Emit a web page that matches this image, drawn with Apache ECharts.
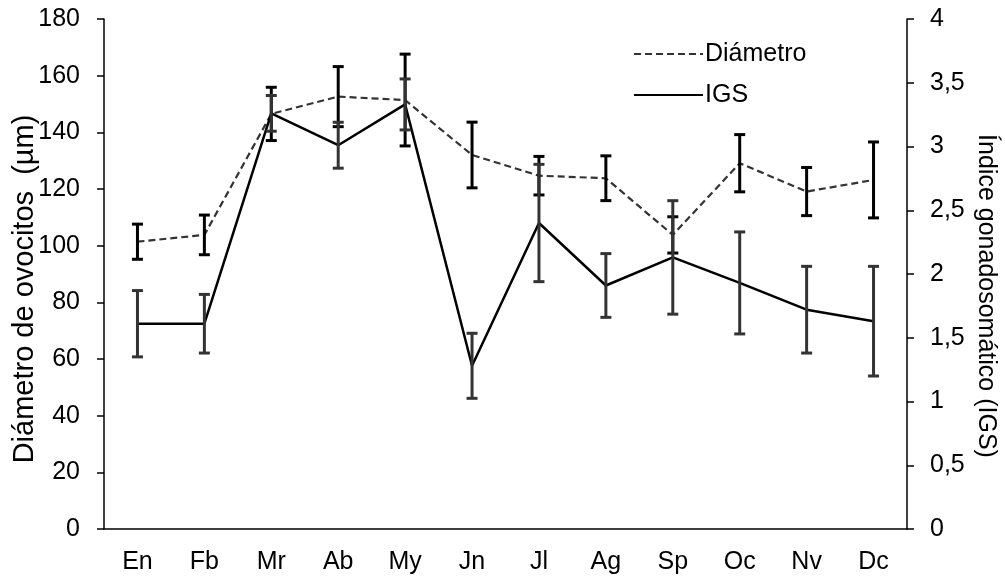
<!DOCTYPE html>
<html>
<head>
<meta charset="utf-8">
<script src="https://cdn.jsdelivr.net/npm/echarts@6/dist/echarts.min.js"></script>
<style>
html,body{margin:0;padding:0;background:#fff;}
#chart{width:1005px;height:579px;}
</style>
</head>
<body>
<div id="chart"></div>
<script>
const months = ['En','Fb','Mr','Ab','My','Jn','Jl','Ag','Sp','Oc','Nv','Dc'];
const diametro = [101.4, 103.8, 146.5, 152.6, 151.4, 132.0, 124.7, 123.8, 103.8, 129.1, 119.1, 123.2];
const diametroErr = [6.2, 7.0, 9.4, 10.6, 16.2, 11.6, 6.8, 7.9, 6.4, 10.1, 8.5, 13.4];
const igs = [1.61, 1.61, 3.26, 3.01, 3.33, 1.28, 2.40, 1.91, 2.13, 1.93, 1.72, 1.63];
const igsErr = [0.26, 0.23, 0.14, 0.18, 0.20, 0.255, 0.46, 0.25, 0.445, 0.40, 0.34, 0.43];
const leftTicks = [0, 20, 40, 60, 80, 100, 120, 140, 160, 180];
const rightTicks = [0, 0.5, 1, 1.5, 2, 2.5, 3, 3.5, 4];

const NARROW = "'Liberation Sans Narrow','Arial Narrow','Liberation Sans',Arial,sans-serif";
const REG = "'Liberation Sans',Arial,sans-serif";

function errData(vals, errs){
  return vals.map((v,i)=>[i, v - errs[i], v + errs[i]]);
}
function errRender(color){
  return function(params, api){
    const x = api.value(0);
    const lo = api.coord([x, api.value(1)]);
    const hi = api.coord([x, api.value(2)]);
    const hw = 5.5;
    const style = {stroke: color, lineWidth: 3};
    return {
      type: 'group',
      children: [
        {type:'line', shape:{x1:lo[0], y1:lo[1], x2:hi[0], y2:hi[1]}, style},
        {type:'line', shape:{x1:lo[0]-hw, y1:lo[1], x2:lo[0]+hw, y2:lo[1]}, style},
        {type:'line', shape:{x1:hi[0]-hw, y1:hi[1], x2:hi[0]+hw, y2:hi[1]}, style}
      ]
    };
  };
}

const chart = echarts.init(document.getElementById('chart'));
chart.setOption({
  animation: false,
  backgroundColor: '#fff',
  grid: {left: 104, right: 98, top: 19, bottom: 50, containLabel: false},
  legend: {
    orient: 'vertical',
    left: 628, top: 36,
    itemWidth: 69, itemHeight: 26, itemGap: 15,
    data: ['Diámetro', 'IGS'],
    itemStyle: {opacity: 0},
    textStyle: {fontFamily: NARROW, fontSize: 25, color: '#000', padding: [0,0,0,-3], lineHeight: 26}
  },
  xAxis: {
    type: 'category',
    data: months,
    boundaryGap: true,
    axisLine: {lineStyle: {color: '#000', width: 1.5}},
    axisTick: {alignWithLabel: true, length: 6, lineStyle: {color: '#000', width: 1.5}},
    axisLabel: {fontFamily: NARROW, fontSize: 25, color: '#000', margin: 21}
  },
  yAxis: [
    {
      type: 'value', min: 0, max: 180, interval: 20,
      axisLine: {show: true, lineStyle: {color: '#000', width: 1.5}},
      axisTick: {show: true, length: 7, lineStyle: {color: '#000', width: 1.5}},
      splitLine: {show: false},
      axisLabel: {fontFamily: NARROW, fontSize: 25, color: '#000', margin: 24,
        formatter: v => leftTicks.includes(v) ? String(v) : ''}
    },
    {
      type: 'value', min: 0, max: 4, interval: 0.5, position: 'right',
      axisLine: {show: true, lineStyle: {color: '#000', width: 1.5}},
      axisTick: {show: true, length: 7, lineStyle: {color: '#000', width: 1.5}},
      splitLine: {show: false},
      axisLabel: {fontFamily: NARROW, fontSize: 25, color: '#000', margin: 23,
        formatter: v => rightTicks.includes(v) ? String(v).replace('.', ',') : ''}
    }
  ],
  graphic: [
    {type: 'text', rotation: Math.PI/2,
      x: 25, y: 289,
      style: {text: 'Diámetro de ovocitos  (µm)', font: "29px " + REG, fill: '#000', textAlign: 'center', textVerticalAlign: 'middle'}},
    {type: 'text', rotation: -Math.PI/2,
      x: 986, y: 296,
      style: {text: 'Índice gonadosomático (IGS)', font: "25px " + REG, fill: '#000', textAlign: 'center', textVerticalAlign: 'middle'}}
  ],
  series: [
    {
      name: 'Diámetro', type: 'line', yAxisIndex: 0, data: diametro,
      symbol: 'none', z: 3,
      lineStyle: {color: '#333', width: 2.2, type: [7, 4]},
      itemStyle: {color: '#333'}
    },
    {
      name: 'IGS', type: 'line', yAxisIndex: 1, data: igs,
      symbol: 'none', z: 3,
      lineStyle: {color: '#000', width: 2.5, type: 'solid'},
      itemStyle: {color: '#000'}
    },
    {
      name: 'errDiam', type: 'custom', yAxisIndex: 0, z: 4,
      data: errData(diametro, diametroErr),
      renderItem: errRender('#000'),
      encode: {x: 0, y: [1, 2]}
    },
    {
      name: 'errIGS', type: 'custom', yAxisIndex: 1, z: 4,
      data: errData(igs, igsErr),
      renderItem: errRender('#333'),
      encode: {x: 0, y: [1, 2]}
    }
  ]
});
</script>
</body>
</html>
